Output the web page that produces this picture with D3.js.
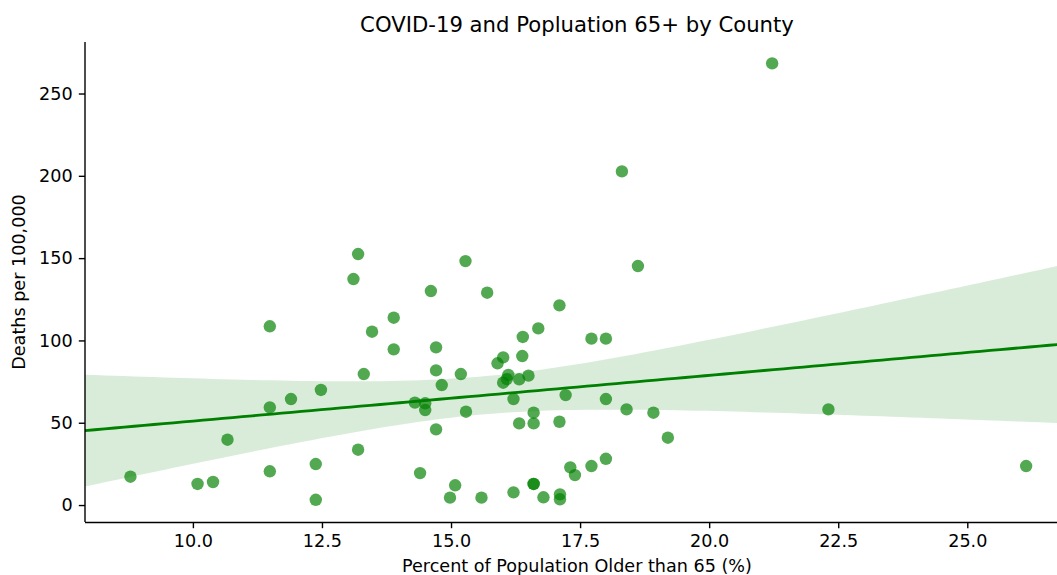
<!DOCTYPE html>
<html>
<head>
<meta charset="utf-8">
<script src="https://cdn.jsdelivr.net/npm/d3@7"></script>
<style>
  html, body { margin: 0; padding: 0; background: #fff; }
  svg { display: block; font-family: "DejaVu Sans", sans-serif; }
</style>
</head>
<body>
<svg id="chart" width="1057" height="575"></svg>
<script>
// Percent of county population aged 65+ and COVID-19 deaths per 100,000
const pctOlder65 = [
  8.79, 10.09, 10.39, 10.67, 11.49, 11.49, 11.49, 11.90, 12.48, 12.38, 12.38,
  13.20, 13.11, 13.31, 13.47, 13.89, 13.89, 13.20, 14.61, 14.71, 14.71, 14.82,
  14.30, 14.50, 14.50, 14.71, 14.40, 15.28, 15.70, 15.19, 15.29, 15.08, 14.98,
  15.59, 16.01, 15.90, 16.38, 16.39, 16.69, 17.10, 16.11, 16.08, 16.01, 16.32,
  16.50, 16.21, 16.60, 16.32, 16.60, 17.10, 17.22, 16.21, 16.60, 16.60, 16.79,
  17.11, 17.11, 17.31, 17.40, 17.72, 17.72, 18.00, 18.00, 18.00, 18.40, 18.92,
  19.20, 18.31, 18.62, 21.22, 22.31, 26.14
];
const deathsPer100k = [
  17.2, 12.8, 14.0, 39.7, 108.6, 59.3, 20.5, 64.4, 69.9, 24.9, 3.2,
  152.5, 137.3, 79.6, 105.3, 113.8, 94.6, 33.6, 130.0, 95.8, 81.8, 72.9,
  62.2, 61.8, 57.7, 46.0, 19.4, 148.2, 129.0, 79.6, 56.7, 12.0, 4.5,
  4.5, 89.7, 86.1, 90.5, 102.1, 107.3, 121.3, 79.0, 76.5, 74.3, 76.4,
  78.6, 64.4, 56.1, 49.6, 49.6, 50.6, 66.8, 7.7, 12.8, 12.8, 4.7,
  6.5, 3.5, 22.9, 18.2, 23.7, 101.1, 101.1, 64.4, 28.1, 58.1, 56.1,
  40.9, 202.7, 145.2, 268.3, 58.1, 23.7
];
const xTicks = [10.0, 12.5, 15.0, 17.5, 20.0, 22.5, 25.0];
const yTicks = [0, 50, 100, 150, 200, 250];

const chartTitle = "COVID-19 and Popluation 65+ by County";
const xTitle = "Percent of Population Older than 65 (%)";
const yTitle = "Deaths per 100,000";

const svg = d3.select("#chart");
const plot = { left: 85, right: 1069, top: 42, bottom: 522 };

const x = d3.scaleLinear().domain([7.91, 26.97]).range([plot.left, plot.right]);
const y = d3.scaleLinear().domain([-10.3, 281.3]).range([plot.bottom, plot.top]);

const points = pctOlder65.map((v, i) => ({ x: v, y: deathsPer100k[i] }));

// Ordinary least squares fit with a 95% confidence band for the mean
const n = points.length;
const xbar = d3.mean(points, d => d.x);
const ybar = d3.mean(points, d => d.y);
const sxx = d3.sum(points, d => (d.x - xbar) ** 2);
const sxy = d3.sum(points, d => (d.x - xbar) * (d.y - ybar));
const slope = sxy / sxx;
const intercept = ybar - slope * xbar;
const sse = d3.sum(points, d => (d.y - (intercept + slope * d.x)) ** 2);
const se = Math.sqrt(sse / (n - 2));
const tCrit = 1.994;
const grid = d3.range(0, 101).map(i => x.domain()[0] + (x.domain()[1] - x.domain()[0]) * i / 100);
const band = grid.map(g => {
  const fit = intercept + slope * g;
  const half = tCrit * se * Math.sqrt(1 / n + (g - xbar) ** 2 / sxx);
  return { x: g, fit, lo: fit - half, hi: fit + half };
});

const green = "#008000";

// scatter
svg.append("g")
  .selectAll("circle")
  .data(points)
  .join("circle")
  .attr("cx", d => x(d.x))
  .attr("cy", d => y(d.y))
  .attr("r", 6.2)
  .attr("fill", green)
  .attr("fill-opacity", 0.68);

// fitted line
svg.append("path")
  .datum(band)
  .attr("fill", "none")
  .attr("stroke", green)
  .attr("stroke-width", 2.8)
  .attr("d", d3.line().x(d => x(d.x)).y(d => y(d.fit)));

// confidence band
svg.append("path")
  .datum(band)
  .attr("fill", green)
  .attr("fill-opacity", 0.15)
  .attr("d", d3.area().x(d => x(d.x)).y0(d => y(d.lo)).y1(d => y(d.hi)));

// axes
const fontSize = 17.6;
const xAxis = d3.axisBottom(x).tickValues(xTicks).tickFormat(d3.format(".1f"))
  .tickSizeOuter(0).tickSizeInner(6.2).tickPadding(6.2);
const yAxis = d3.axisLeft(y).tickValues(yTicks).tickFormat(d3.format("d"))
  .tickSizeOuter(0).tickSizeInner(6.2).tickPadding(6.2);

const gx = svg.append("g").attr("transform", `translate(0,${plot.bottom})`).call(xAxis);
const gy = svg.append("g").attr("transform", `translate(${plot.left},0)`).call(yAxis);

[gx, gy].forEach(g => {
  g.select(".domain").attr("stroke", "#000").attr("stroke-width", 1.4);
  g.selectAll(".tick line").attr("stroke", "#000").attr("stroke-width", 1.4);
  g.selectAll(".tick text").attr("fill", "#000")
    .style("font-family", "'DejaVu Sans', sans-serif")
    .style("font-size", fontSize + "px");
});
gx.select(".domain").attr("d", `M${plot.left},0.5H${plot.right}`);
gy.select(".domain").attr("d", `M0,${plot.top}V${plot.bottom}`);
gx.selectAll(".tick text").attr("dy", "0.71em");

// titles
svg.append("text")
  .attr("x", (plot.left + plot.right) / 2)
  .attr("y", 31.5)
  .attr("text-anchor", "middle")
  .style("font-size", "21.2px")
  .attr("fill", "#000")
  .text(chartTitle);

svg.append("text")
  .attr("x", (plot.left + plot.right) / 2)
  .attr("y", 572)
  .attr("text-anchor", "middle")
  .style("font-size", fontSize + "px")
  .attr("fill", "#000")
  .text(xTitle);

svg.append("text")
  .attr("transform", `translate(25,${(plot.top + plot.bottom) / 2}) rotate(-90)`)
  .attr("text-anchor", "middle")
  .style("font-size", fontSize + "px")
  .attr("fill", "#000")
  .text(yTitle);
</script>
</body>
</html>
